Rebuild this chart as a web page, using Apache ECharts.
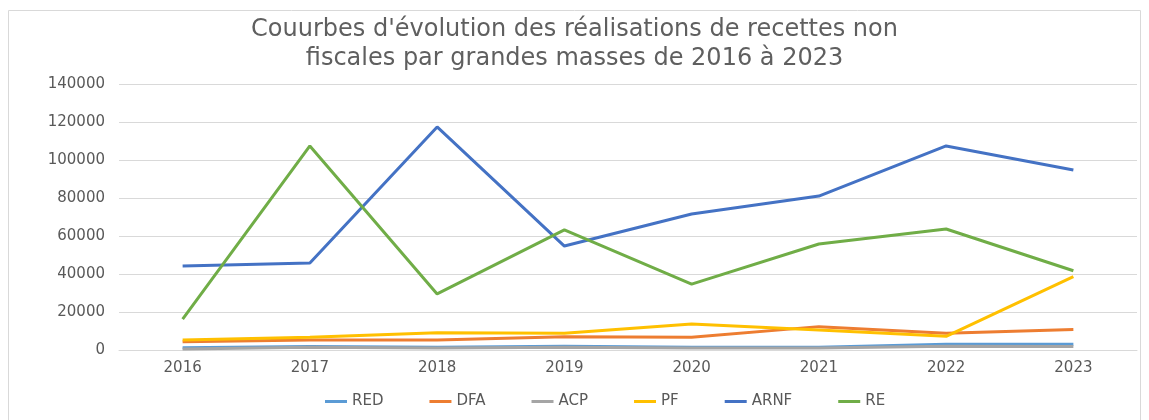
<!DOCTYPE html>
<html>
<head>
<meta charset="utf-8">
<title></title>
<script type="text/javascript" src="https://cdn.jsdelivr.net/npm/echarts@6/dist/echarts.min.js"></script>
<style>
  html, body { margin: 0; padding: 0; background: #fff; }
</style>
</head>
<body>
<div id="main" style="width:1149px;height:420px;"></div>
<script type="text/javascript">
// années
var years = ['2016', '2017', '2018', '2019', '2020', '2021', '2022', '2023'];
// valeurs
var red  = [1200, 1800, 1500, 2000, 1500, 1500, 3000, 3000];
var dfa  = [4400, 5300, 5300, 7000, 6700, 12300, 8800, 10800];
var acp  = [500, 1500, 1000, 1500, 1000, 1000, 2000, 1800];
var pf   = [5300, 6700, 9100, 8800, 13700, 10500, 7200, 38600];
var arnf = [44200, 45800, 117400, 54700, 71600, 81000, 107400, 94700];
var re   = [16300, 107400, 29500, 63200, 34700, 55800, 63700, 41700];

var names  = ['RED', 'DFA', 'ACP', 'PF', 'ARNF', 'RE'];
var values = [red, dfa, acp, pf, arnf, re];
var colors = ['#5B9BD5', '#ED7D31', '#A5A5A5', '#FFC000', '#4472C4', '#70AD47'];

var myChart = echarts.init(document.getElementById('main'));

var series = names.map(function (n, i) {
    return {
        name: n,
        type: 'line',
        data: values[i],
        showSymbol: false,
        symbol: 'none',
        lineStyle: { width: 3, color: colors[i] },
        itemStyle: { color: colors[i] }
    };
});

myChart.setOption({
    animation: false,
    title: {
        text: "Couurbes d'évolution des réalisations de recettes non\nfiscales par grandes masses de 2016 à 2023",
        left: 'center',
        top: 10,
        textStyle: {
            fontFamily: 'DejaVu Sans',
            fontSize: 24,
            fontWeight: 'normal',
            color: '#5f5f5f',
            lineHeight: 29
        }
    },
    graphic: [{
        type: 'rect',
        shape: { x: 8.5, y: 10.5, width: 1132, height: 420 },
        style: { fill: 'none', stroke: '#d9d9d9', lineWidth: 1 },
        silent: true
    }],
    legend: {
        bottom: 6,
        left: 320,
        data: names,
        icon: 'rect',
        itemWidth: 22,
        itemHeight: 3,
        itemGap: 46,
        textStyle: { fontFamily: 'DejaVu Sans', fontSize: 15, color: '#595959' }
    },
    grid: { left: 119, right: 12, top: 84, bottom: 70 },
    xAxis: {
        type: 'category',
        data: years,
        boundaryGap: true,
        axisLine: { show: true, lineStyle: { color: '#d9d9d9' } },
        axisTick: { show: false },
        axisLabel: { fontFamily: 'DejaVu Sans', fontSize: 15, color: '#595959', margin: 11 }
    },
    yAxis: {
        type: 'value',
        min: 0,
        max: 140000,
        interval: 20000,
        axisLine: { show: false },
        axisTick: { show: false },
        splitLine: { lineStyle: { color: '#d9d9d9' } },
        axisLabel: {
            fontFamily: 'DejaVu Sans', fontSize: 15, color: '#595959', margin: 14,
            formatter: function (v) { return String(v); }
        }
    },
    series: series
});
</script>
</body>
</html>
